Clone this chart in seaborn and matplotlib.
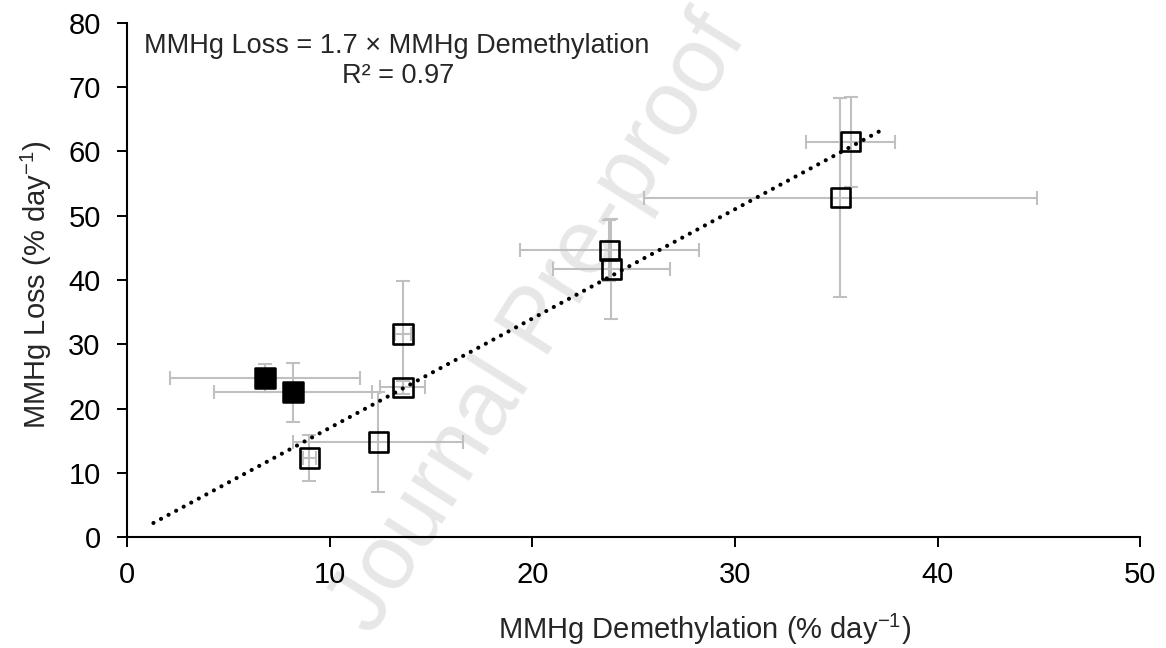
import numpy as np
import pandas as pd
import matplotlib
matplotlib.use("Agg")
import matplotlib.pyplot as plt
import seaborn as sns

# ---- data ----
filled_x = [6.8, 8.2]
filled_y = [24.7, 22.5]
filled_xerr = [4.7, 3.9]
filled_yerr = [2.2, 4.6]

open_x = [9.0, 12.4, 13.6, 13.6, 23.8, 23.9, 35.2, 35.7]
open_y = [12.3, 14.8, 23.3, 31.6, 44.6, 41.7, 52.8, 61.5]
open_xerr = [0.3, 4.2, 1.1, 0.4, 4.4, 2.9, 9.7, 2.2]
open_yerr = [3.6, 7.8, 1.0, 8.3, 4.7, 7.7, 15.5, 7.0]

slope = 1.7
fit_x = [1.3, 37.3]
x_ticks = [0, 10, 20, 30, 40, 50]
y_ticks = [0, 10, 20, 30, 40, 50, 60, 70, 80]

sns.set_theme(style="white")
plt.rcParams['font.family'] = ['Liberation Sans', 'DejaVu Sans']
plt.rcParams['mathtext.fontset'] = 'custom'
plt.rcParams['mathtext.rm'] = 'Liberation Sans'
plt.rcParams['mathtext.default'] = 'regular'

fig = plt.figure(figsize=(11.66, 6.48), dpi=100)
ax = fig.add_axes([0.109, 0.171, 0.869, 0.794])
ax.patch.set_alpha(0)

# watermark (beneath the axes content)
fig.text(0.462, 0.50, "Journal Pre-proof", rotation=58, fontsize=66,
         color="#E7E7E7", ha="center", va="center", zorder=-1)

ebc = "#C0C0C0"
ax.errorbar(filled_x, filled_y, xerr=filled_xerr, yerr=filled_yerr, fmt="none",
            ecolor=ebc, elinewidth=1.5, capsize=4.7, capthick=1.5, zorder=2)
ax.errorbar(open_x, open_y, xerr=open_xerr, yerr=open_yerr, fmt="none",
            ecolor=ebc, elinewidth=1.5, capsize=4.7, capthick=1.5, zorder=2)

fit_df = pd.DataFrame({"x": fit_x, "y": [slope * v for v in fit_x]})
sns.lineplot(data=fit_df, x="x", y="y", ax=ax, color="black", linewidth=3.0,
             linestyle=(0, (0.01, 2.05)), zorder=3)
for ln in ax.lines:
    ln.set_dash_capstyle("round")

df_f = pd.DataFrame({"x": filled_x, "y": filled_y})
df_o = pd.DataFrame({"x": open_x, "y": open_y})
sns.scatterplot(data=df_f, x="x", y="y", ax=ax, marker="s", s=200,
                color="black", edgecolor="black", linewidth=1.8, zorder=4)
sns.scatterplot(data=df_o, x="x", y="y", ax=ax, marker="s", s=200,
                facecolor="none", edgecolor="black", linewidth=1.9, zorder=4)

ax.set_xlim(0, 50)
ax.set_ylim(0, 80)
ax.set_xticks(x_ticks)
ax.set_yticks(y_ticks)
ax.tick_params(axis="both", direction="out", length=7, width=1.4,
               labelsize=21, colors="black", left=True, bottom=True)
ax.tick_params(axis="x", pad=10)
ax.tick_params(axis="y", pad=12)
sns.despine(ax=ax)
for s in ["left", "bottom"]:
    ax.spines[s].set_color("black")
    ax.spines[s].set_linewidth(1.5)

ax.set_xlabel("MMHg Demethylation (% day$^{-1}$)", fontsize=21)
ax.set_ylabel("MMHg Loss (% day$^{-1}$)", fontsize=21)
ax.xaxis.set_label_coords(0.57, -0.145)
ax.yaxis.set_label_coords(-0.072, 0.49)

ax.text(0.85, 76.4, "MMHg Loss = 1.7 × MMHg Demethylation", fontsize=19.5,
        ha="left", va="center")
ax.text(10.6, 71.7, "R² = 0.97", fontsize=19.5, ha="left", va="center")

fig.savefig("out.png", dpi=100)
